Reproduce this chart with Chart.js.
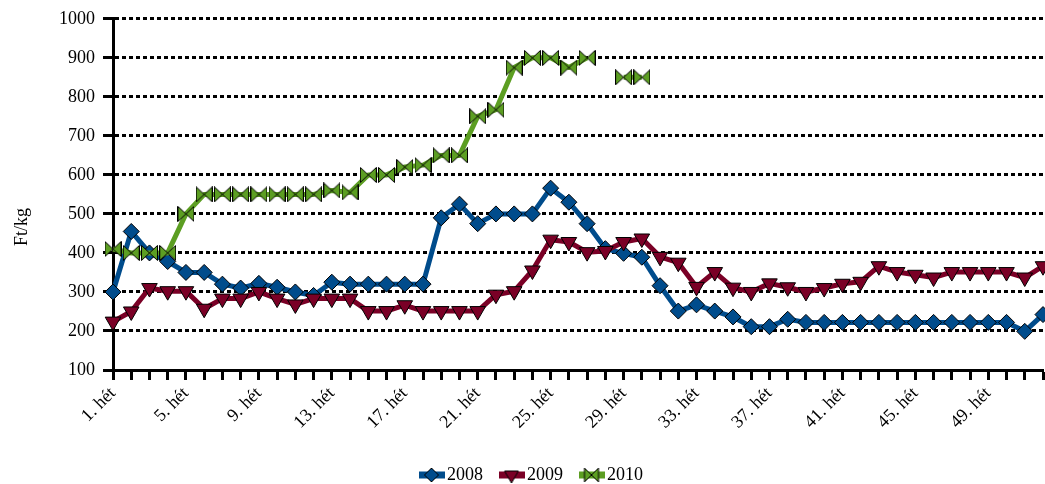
<!DOCTYPE html>
<html><head><meta charset="utf-8">
<script src="https://cdn.jsdelivr.net/npm/chart.js@4.4.0/dist/chart.umd.min.js"></script>
<style>html,body{margin:0;padding:0;background:#fff;}#wrap{width:1045px;height:484px;position:relative;}</style>
</head><body><div id="wrap"><canvas id="c"></canvas></div>
<script>
const weeks = ['1. hét','2. hét','3. hét','4. hét','5. hét','6. hét','7. hét','8. hét','9. hét','10. hét',
'11. hét','12. hét','13. hét','14. hét','15. hét','16. hét','17. hét','18. hét','19. hét','20. hét',
'21. hét','22. hét','23. hét','24. hét','25. hét','26. hét','27. hét','28. hét','29. hét','30. hét',
'31. hét','32. hét','33. hét','34. hét','35. hét','36. hét','37. hét','38. hét','39. hét','40. hét',
'41. hét','42. hét','43. hét','44. hét','45. hét','46. hét','47. hét','48. hét','49. hét','50. hét',
'51. hét','52. hét'];
const labelEvery = 4;
const seriesNames = ['2008', '2009', '2010'];
const s2008 = [300,455,400,378,350,350,320,310,322,312,300,291,325,320,320,320,320,320,490,525,
475,500,500,500,566,530,475,411,399,389,316,251,267,251,236,211,211,230,222,222,
222,222,222,222,222,222,222,222,222,222,199,242];
const s2009 = [224,250,310,302,302,257,283,283,300,283,268,283,283,283,251,251,266,251,251,251,
251,293,302,355,434,428,402,405,428,437,390,375,313,351,311,300,322,312,300,310,
321,326,366,351,344,337,351,351,351,351,337,366];
const s2010 = [410,400,400,400,500,550,550,550,550,550,550,550,560,555,600,600,620,625,650,650,
750,767,875,900,900,875,900,null,850,850,null,null,null,null,null,null,null,null,null,null,
null,null,null,null,null,null,null,null,null,null,null,null];
const yTitle = 'Ft/kg';
const yMin = 100, yMax = 1000, yStep = 100;

const C08 = '#004C8C', C09 = '#7A0026', C10 = '#5C9E22';
const FONT = '"Liberation Serif", "DejaVu Serif", serif';

function bowtie(fill, w, h) {
  const c = document.createElement('canvas'); c.width = w; c.height = h;
  const g = c.getContext('2d');
  g.fillStyle = fill; g.strokeStyle = '#000'; g.lineWidth = 1;
  g.beginPath();
  g.moveTo(0.5, 0.5); g.lineTo(w / 2, h / 2); g.lineTo(0.5, h - 0.5); g.closePath();
  g.moveTo(w - 0.5, 0.5); g.lineTo(w / 2, h / 2); g.lineTo(w - 0.5, h - 0.5); g.closePath();
  g.fill(); g.stroke();
  return c;
}
function legendSample(color, kind) {
  const w = 26, h = 16;
  const c = document.createElement('canvas'); c.width = w; c.height = h;
  const g = c.getContext('2d');
  g.fillStyle = color; g.fillRect(0, h / 2 - 3.5, w, 7);
  g.strokeStyle = '#000'; g.lineWidth = 1;
  const cx = w / 2, cy = h / 2;
  g.beginPath();
  if (kind === 'd') { const r = 7; g.moveTo(cx, cy - r); g.lineTo(cx + r, cy); g.lineTo(cx, cy + r); g.lineTo(cx - r, cy); g.closePath(); g.fill(); g.stroke(); }
  else if (kind === 't') { const r = 8; g.moveTo(cx - r * 0.866, cy - r * 0.5); g.lineTo(cx + r * 0.866, cy - r * 0.5); g.lineTo(cx, cy + r); g.closePath(); g.fill(); g.stroke(); }
  else { const bw = 14, bh = 14, x0 = cx - bw / 2, y0 = cy - bh / 2;
    g.moveTo(x0, y0); g.lineTo(cx, cy); g.lineTo(x0, y0 + bh); g.closePath();
    g.moveTo(x0 + bw, y0); g.lineTo(cx, cy); g.lineTo(x0 + bw, y0 + bh); g.closePath(); g.fill(); g.stroke(); }
  return c;
}
const bow = bowtie(C10, 17, 16);
const legendImgs = [legendSample(C08, 'd'), legendSample(C09, 't'), legendSample(C10, 'b')];
const legendColors = [C08, C09, C10];

const yTitlePlugin = {
  id: 'ytitle',
  afterDraw(chart) {
    const ctx = chart.ctx; ctx.save();
    ctx.translate(22, 227); ctx.rotate(-Math.PI / 2);
    ctx.font = '18px ' + FONT; ctx.fillStyle = '#000';
    ctx.textAlign = 'center'; ctx.textBaseline = 'middle';
    ctx.fillText(yTitle, 0, 0); ctx.restore();
  }
};
const legendPos = {
  id: 'legendPos',
  afterLayout(chart) {
    const lg = chart.legend; if (!lg || !lg.lineWidths) return;
    const pad = lg.options.labels.padding;
    const cur = (lg.left + pad + lg.right - lg.lineWidths[0]) / 2;
    const dx = 425 - cur;
    lg.left += dx; lg.right += dx;
    const top = 475 - pad - 9;
    const hgt = lg.height;
    lg.top = top; lg.bottom = top + hgt;
  }
};

new Chart(document.getElementById('c'), {
  type: 'line',
  data: {
    labels: weeks,
    datasets: [
      { label: seriesNames[0], data: s2008, order: 2, borderColor: C08, backgroundColor: C08, borderWidth: 5,
        borderJoinStyle: 'round', pointStyle: 'rectRot', pointRadius: 8, pointBackgroundColor: C08,
        pointBorderColor: '#000', pointBorderWidth: 1, tension: 0, clip: false },
      { label: seriesNames[1], data: s2009, order: 1, borderColor: C09, backgroundColor: C09, borderWidth: 5,
        borderJoinStyle: 'round', pointStyle: 'triangle', rotation: 180, pointRadius: 9, pointBackgroundColor: C09,
        pointBorderColor: '#000', pointBorderWidth: 1, tension: 0, clip: false },
      { label: seriesNames[2], data: s2010, order: 0, borderColor: C10, backgroundColor: C10, borderWidth: 5,
        borderJoinStyle: 'round', pointStyle: bow, pointRadius: 8, pointBackgroundColor: C10,
        pointBorderColor: '#000', pointBorderWidth: 1, tension: 0, spanGaps: false, clip: false }
    ]
  },
  options: {
    responsive: true, maintainAspectRatio: false, animation: false,
    layout: { autoPadding: false, padding: { left: 0, right: 2, top: 18, bottom: 0 } },
    plugins: {
      tooltip: { enabled: false },
      legend: {
        position: 'bottom',
        labels: {
          usePointStyle: true, pointStyleWidth: 13, padding: 22,
          font: { family: FONT, size: 18 }, color: '#000',
          generateLabels: () => seriesNames.map((n, i) => ({
            text: n, pointStyle: legendImgs[i], fillStyle: legendColors[i], strokeStyle: legendColors[i],
            lineWidth: 0, hidden: false, datasetIndex: i, fontColor: '#000'
          }))
        }
      }
    },
    scales: {
      x: {
        offset: false,
        grid: { display: true, drawOnChartArea: false, drawTicks: true, tickLength: 10, tickWidth: 3, tickColor: '#000', offset: false },
        border: { display: true, color: '#000', width: 3 },
        ticks: {
          autoSkip: false, maxRotation: 45, minRotation: 45, padding: 3, color: '#000',
          font: { family: FONT, size: 18 },
          callback: (v, i) => (i % labelEvery === 0 ? weeks[i] : '')
        },
        afterFit: (s) => {
          const lh = s.chart.legend ? s.chart.legend.height : 40;
          s.height = 484 - 370 - lh;
          s.paddingRight = 0;
        }
      },
      y: {
        min: yMin, max: yMax,
        grid: { color: '#000', lineWidth: 3, drawTicks: true, tickLength: 10, tickWidth: 3, tickColor: '#000' },
        border: { display: true, color: '#000', width: 3, dash: [4, 3] },
        ticks: { stepSize: yStep, padding: 8, color: '#000', font: { family: FONT, size: 18 },
          callback: (v) => String(v) },
        afterFit: (s) => { s.width = 113; }
      }
    }
  },
  plugins: [yTitlePlugin, legendPos]
});
</script></body></html>
